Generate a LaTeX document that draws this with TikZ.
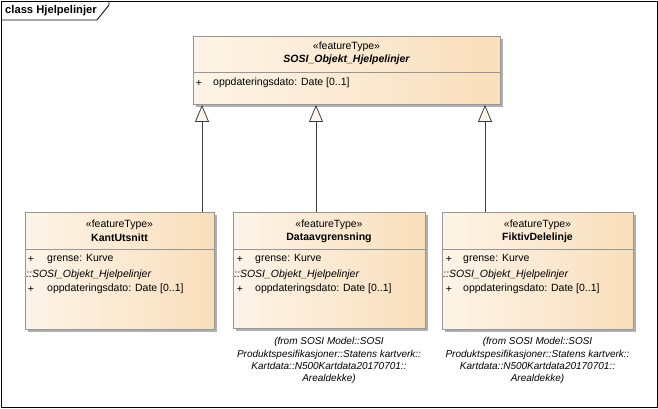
\documentclass[tikz,border=0pt]{standalone}
\usepackage{fontspec}
\setmainfont{Liberation Sans}
\usetikzlibrary{arrows.meta,shadows}
\definecolor{boxl}{RGB}{253,244,232}
\definecolor{boxr}{RGB}{249,223,188}
\definecolor{boxborder}{RGB}{150,150,150}
\definecolor{shadowc}{RGB}{175,175,175}
\definecolor{linec}{RGB}{60,60,60}
\definecolor{tipfill}{RGB}{254,246,234}
\begin{document}
\begin{tikzpicture}[x=1pt,y=-1pt,
  every node/.style={font=\fontsize{10.5}{12.5}\selectfont, text=black, inner sep=0pt},
  cls/.style={draw=boxborder, line width=0.9pt, left color=boxl, right color=boxr,
    anchor=north west, inner sep=0pt,
    drop shadow={shadow xshift=3pt, shadow yshift=-3pt, fill=shadowc, opacity=1}},
  div/.style={draw=boxborder, line width=0.8pt},
  attr/.style={anchor=west},
  ctr/.style={anchor=center, align=center},
  fromtxt/.style={anchor=north, align=center, font=\fontsize{10}{12.2}\selectfont\itshape},
  gen/.style={draw=linec, line width=0.8pt, -{Triangle[length=17pt,width=14pt,fill=tipfill,color=linec]}}
]
\useasboundingbox (0,0) rectangle (658,409);
% frame
\draw[line width=0.8pt] (1,1) rectangle (657,407);
\draw[line width=0.8pt] (1,20) -- (97,20) -- (109,5) -- (109,1);
\node[anchor=west, font=\fontsize{11.2}{12}\selectfont\bfseries] (title) at (5,11) {class Hjelpelinjer};

% top class
\node[cls, minimum width=307pt, minimum height=68pt] (top) at (193,36) {};
\draw[div] (193,72) -- (500,72);
\node[ctr] (topst) at (346.5,47) {«featureType»};
\node[ctr, font=\fontsize{10.5}{12}\selectfont\bfseries\itshape] (topnm) at (346.5,60) {SOSI\_Objekt\_Hjelpelinjer};
\node[ctr] (topp) at (199,83) {+};
\node[attr] (topa) at (213,83) {oppdateringsdato: Date [0..1]};

% KantUtsnitt
\node[cls, minimum width=189pt, minimum height=117pt] (kant) at (25,212) {};
\draw[div] (25,249) -- (214,249);
\node[ctr] (kst) at (119.5,225) {«featureType»};
\node[ctr, font=\fontsize{10.5}{12}\selectfont\bfseries] (knm) at (119.5,238) {KantUtsnitt};
\node[ctr] (kp1) at (31,259) {+};
\node[attr] (ka1) at (47,259) {grense: Kurve};
\node[attr, font=\fontsize{10.5}{12}\selectfont\itshape] (ka2) at (26,275) {::SOSI\_Objekt\_Hjelpelinjer};
\node[ctr] (kp3) at (31,289) {+};
\node[attr] (ka3) at (47,289) {oppdateringsdato: Date [0..1]};

% Dataavgrensning
\node[cls, minimum width=192pt, minimum height=116pt] (data) at (233,212) {};
\draw[div] (233,249) -- (425,249);
\node[ctr] (dst) at (329,225) {«featureType»};
\node[ctr, font=\fontsize{10.5}{12}\selectfont\bfseries] (dnm) at (329,238) {Dataavgrensning};
\node[ctr] (dp1) at (240,259) {+};
\node[attr] (da1) at (255,259) {grense: Kurve};
\node[attr, font=\fontsize{10.5}{12}\selectfont\itshape] (da2) at (234,275) {::SOSI\_Objekt\_Hjelpelinjer};
\node[ctr] (dp3) at (240,289) {+};
\node[attr] (da3) at (255,289) {oppdateringsdato: Date [0..1]};
\node[fromtxt] (dfrom) at (329,337.5) {(from SOSI Model::SOSI\\Produktspesifikasjoner::Statens kartverk::\\Kartdata::N500Kartdata20170701::\\Arealdekke)};

% FiktivDelelinje
\node[cls, minimum width=191pt, minimum height=117pt] (fikt) at (442,212) {};
\draw[div] (442,249) -- (633,249);
\node[ctr] (fst) at (537.5,225) {«featureType»};
\node[ctr, font=\fontsize{10.5}{12}\selectfont\bfseries] (fnm) at (537.5,238) {FiktivDelelinje};
\node[ctr] (fp1) at (449,259) {+};
\node[attr] (fa1) at (463,259) {grense: Kurve};
\node[attr, font=\fontsize{10.5}{12}\selectfont\itshape] (fa2) at (443,275) {::SOSI\_Objekt\_Hjelpelinjer};
\node[ctr] (fp3) at (449,289) {+};
\node[attr] (fa3) at (463,289) {oppdateringsdato: Date [0..1]};
\node[fromtxt] (ffrom) at (537.5,337.5) {(from SOSI Model::SOSI\\Produktspesifikasjoner::Statens kartverk::\\Kartdata::N500Kartdata20170701::\\Arealdekke)};

% generalizations
\coordinate (g1) at (202,0);
\coordinate (g2) at (316,0);
\coordinate (g3) at (485,0);
\draw[gen] (kant.north -| g1) -- (top.south -| g1);
\draw[gen] (data.north -| g2) -- (top.south -| g2);
\draw[gen] (fikt.north -| g3) -- (top.south -| g3);
\end{tikzpicture}
\end{document}
